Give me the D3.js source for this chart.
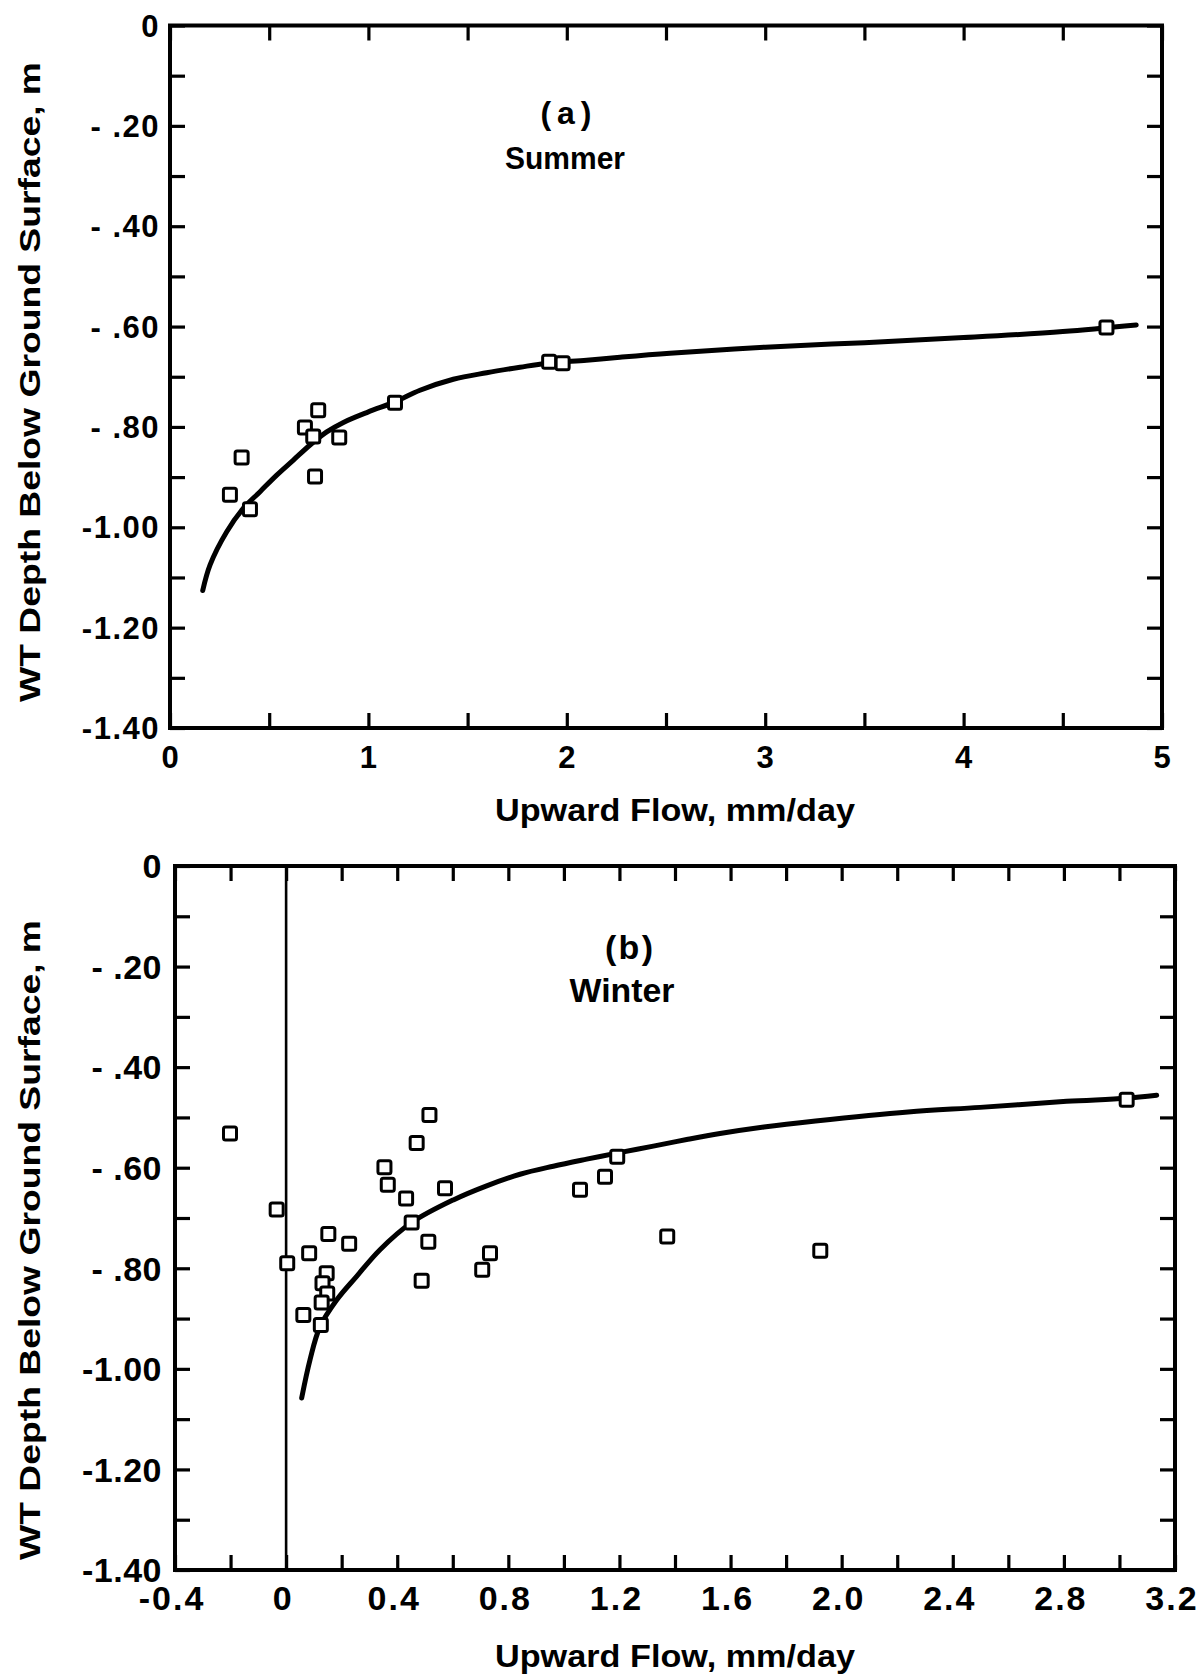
<!DOCTYPE html>
<html><head><meta charset="utf-8">
<script src="https://cdn.jsdelivr.net/npm/d3@7"></script>
<style>
html,body{margin:0;padding:0;background:#fff;}
svg text{font-family:"Liberation Sans",Arial,sans-serif;font-weight:bold;fill:#000;}
</style></head>
<body>
<svg id="chart" width="1204" height="1677"></svg>
<script>
// ---------- data ----------
const summerX = [0.302,0.361,0.403,0.680,0.747,0.722,0.731,0.853,1.134,1.911,1.979,4.72];
const summerY = [-0.935,-0.861,-0.964,-0.801,-0.767,-0.819,-0.899,-0.821,-0.752,-0.670,-0.673,-0.602];
const summerCurveX = [0.165,0.202,0.286,0.370,0.454,0.538,0.622,0.706,0.790,0.874,1.0,1.134,1.26,1.428,1.596,1.764,1.9,2.1,2.268,2.52,3.0,3.5,4.0,4.5,4.87];
const summerCurveY = [-1.126,-1.075,-1.009,-0.962,-0.929,-0.896,-0.866,-0.836,-0.810,-0.791,-0.770,-0.750,-0.727,-0.705,-0.692,-0.681,-0.673,-0.667,-0.661,-0.653,-0.641,-0.632,-0.622,-0.610,-0.597];

const winterX = [-0.202,-0.034,0.004,0.083,0.152,0.227,0.146,0.131,0.148,0.128,0.062,0.125,0.516,0.470,0.354,0.366,0.432,0.572,0.452,0.512,0.488,0.734,0.706,1.058,1.148,1.192,1.372,1.923,3.026];
const winterY = [-0.532,-0.683,-0.790,-0.770,-0.732,-0.751,-0.810,-0.830,-0.850,-0.868,-0.893,-0.913,-0.495,-0.551,-0.599,-0.634,-0.661,-0.641,-0.709,-0.747,-0.825,-0.770,-0.803,-0.644,-0.618,-0.578,-0.737,-0.765,-0.465];
const winterCurveX = [0.056,0.086,0.122,0.182,0.254,0.338,0.452,0.602,0.722,0.842,0.962,1.082,1.190,1.322,1.442,1.562,1.72,1.906,2.239,2.498,2.81,3.023,3.134];
const winterCurveY = [-1.058,-0.982,-0.916,-0.863,-0.816,-0.763,-0.709,-0.664,-0.636,-0.613,-0.597,-0.583,-0.571,-0.557,-0.544,-0.532,-0.519,-0.507,-0.489,-0.480,-0.468,-0.462,-0.456];

const yTickValues = [0,-0.2,-0.4,-0.6,-0.8,-1.0,-1.2,-1.4];
const yTickLabels = ["0","- .20","- .40","- .60","- .80","-1.00","-1.20","-1.40"];
const xTickValuesA = [0,1,2,3,4,5];
const xTickLabelsA = ["0","1","2","3","4","5"];
const xTickValuesB = [-0.4,0,0.4,0.8,1.2,1.6,2.0,2.4,2.8,3.2];
const xTickLabelsB = ["-0.4","0","0.4","0.8","1.2","1.6","2.0","2.4","2.8","3.2"];

const xTitle = "Upward  Flow,  mm/day";
const yTitle = "WT  Depth  Below  Ground  Surface,   m";

// ---------- drawing ----------
const svg = d3.select("#chart");

function panel(cfg){
  const g = svg.append("g");
  const x = d3.scaleLinear().domain(cfg.xDomain).range(cfg.xRange);
  const y = d3.scaleLinear().domain([0,-1.4]).range(cfg.yRange);
  const [x0,x1] = cfg.xRange, [y0,y1] = cfg.yRange;

  const minorX = d3.range(cfg.xDomain[0], cfg.xDomain[1]+1e-9, cfg.xMinor).map(v=>+v.toFixed(4));
  const minorY = d3.range(0, -1.4-1e-9, -0.1).map(v=>+v.toFixed(4));

  const styleAxis = sel => { sel.select(".domain").remove(); sel.selectAll(".tick line").attr("stroke","#000").attr("stroke-width",3.2); };

  g.append("g").attr("transform",`translate(0,${y1})`)
    .call(d3.axisBottom(x).tickValues(minorX).tickSize(-cfg.tick).tickFormat(""))
    .call(styleAxis);
  g.append("g").attr("transform",`translate(0,${y0})`)
    .call(d3.axisTop(x).tickValues(minorX).tickSize(-cfg.tick).tickFormat(""))
    .call(styleAxis);
  g.append("g").attr("transform",`translate(${x0},0)`)
    .call(d3.axisLeft(y).tickValues(minorY).tickSize(-cfg.tick).tickFormat(""))
    .call(styleAxis);
  g.append("g").attr("transform",`translate(${x1},0)`)
    .call(d3.axisRight(y).tickValues(minorY).tickSize(-cfg.tick).tickFormat(""))
    .call(styleAxis);

  // frame
  g.append("rect").attr("x",x0).attr("y",y0).attr("width",x1-x0).attr("height",y1-y0)
    .attr("fill","none").attr("stroke","#000").attr("stroke-width",4);

  // tick labels
  g.selectAll(".xl").data(cfg.xTicks).enter().append("text")
    .attr("x",(d,i)=>x(d)-(cfg.xLabelShift||0)).attr("y",cfg.xLabelY)
    .attr("text-anchor","middle").attr("font-size",cfg.xLabelSize)
    .attr("letter-spacing",cfg.xLS||0)
    .text((d,i)=>cfg.xLabels[i]);
  g.selectAll(".yl").data(yTickValues).enter().append("text")
    .attr("x",cfg.yLabelX).attr("y",d=>y(d)+cfg.yLabelSize*0.36)
    .attr("text-anchor","end").attr("font-size",cfg.yLabelSize)
    .attr("letter-spacing",cfg.yLS||0)
    .text((d,i)=>yTickLabels[i]);

  // zero line
  if(cfg.zeroLine){
    g.append("line").attr("x1",x(0)).attr("x2",x(0)).attr("y1",y0).attr("y2",y1)
      .attr("stroke","#000").attr("stroke-width",2.6);
  }

  // curve
  const line = d3.line().x(d=>x(d[0])).y(d=>y(d[1])).curve(d3.curveCatmullRom.alpha(0.5));
  g.append("path").datum(cfg.cx.map((v,i)=>[v,cfg.cy[i]]))
    .attr("d",line).attr("fill","none").attr("stroke","#000")
    .attr("stroke-width",5).attr("stroke-linecap","round");

  // points
  const s = 13;
  g.selectAll(".pt").data(cfg.px.map((v,i)=>[v,cfg.py[i]])).enter().append("rect")
    .attr("x",d=>x(d[0])-s/2).attr("y",d=>y(d[1])-s/2)
    .attr("width",s).attr("height",s).attr("rx",2)
    .attr("fill","#fff").attr("stroke","#000").attr("stroke-width",3);

  // texts
  g.append("text").attr("x",cfg.lblX).attr("y",cfg.lblY1).attr("text-anchor","middle")
    .attr("font-size",cfg.lblSize).attr("textLength",cfg.lbl1W).attr("lengthAdjust","spacing").text(cfg.lbl1);
  g.append("text").attr("x",cfg.lblX2).attr("y",cfg.lblY2).attr("text-anchor","middle")
    .attr("font-size",cfg.lblSize).attr("textLength",cfg.lbl2W).attr("lengthAdjust","spacingAndGlyphs").text(cfg.lbl2);

  g.append("text").attr("x",675).attr("y",cfg.xTitleY).attr("text-anchor","middle")
    .attr("font-size",31).attr("textLength",360).attr("lengthAdjust","spacingAndGlyphs").text(xTitle);
  g.append("text").attr("transform",`translate(40,${cfg.yTitleC}) rotate(-90)`)
    .attr("text-anchor","middle").attr("font-size",30)
    .attr("textLength",640).attr("lengthAdjust","spacingAndGlyphs").text(yTitle);
}

panel({
  xDomain:[0,5], xRange:[170,1162], yRange:[25.5,728], xMinor:0.5, tick:15,
  xTicks:xTickValuesA, xLabels:xTickLabelsA, xLabelY:768, xLabelSize:31, xLS:0,
  yLabelX:160, yLabelSize:31, yLS:1.5,
  cx:summerCurveX, cy:summerCurveY, px:summerX, py:summerY,
  lbl1:"(a)", lbl2:"Summer", lblSize:32, lbl1W:51, lbl2W:120,
  lblX:566, lblX2:565, lblY1:124, lblY2:169,
  xTitleY:821, yTitleC:382
});

panel({
  xDomain:[-0.4,3.2], xRange:[175,1175], yRange:[866,1570], xMinor:0.2, tick:15,
  xTicks:xTickValuesB, xLabels:xTickLabelsB, xLabelY:1610, xLabelSize:34, xLS:2, xLabelShift:3,
  yLabelX:162, yLabelSize:34, yLS:0.5, zeroLine:true,
  cx:winterCurveX, cy:winterCurveY, px:winterX, py:winterY,
  lbl1:"(b)", lbl2:"Winter", lblSize:34, lbl1W:48, lbl2W:105,
  lblX:629, lblX2:622, lblY1:959, lblY2:1002,
  xTitleY:1667, yTitleC:1240
});
</script>
</body></html>
